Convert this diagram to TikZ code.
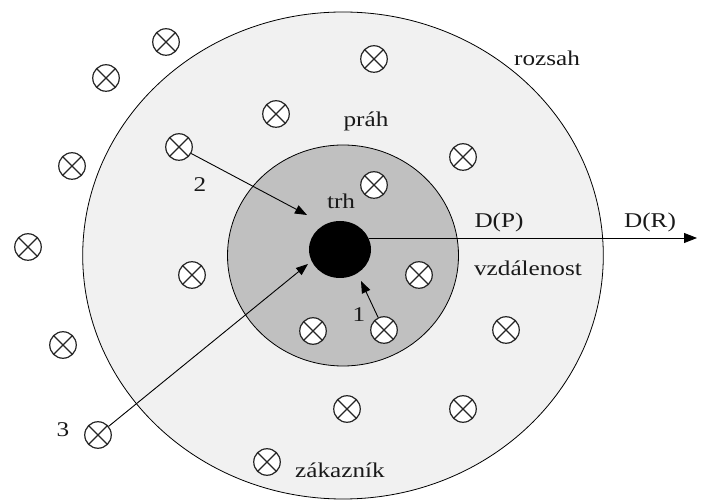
\documentclass[tikz,border=0pt]{standalone}
\usepackage{fontspec}
\setmainfont{Liberation Serif}
\usepackage{graphicx}
\usetikzlibrary{arrows.meta,shapes.geometric}
% slightly widened serif lettering
\newcommand{\wtext}[1]{\scalebox{1.2}[1]{#1}}
\definecolor{rangefill}{RGB}{241,241,241}
\definecolor{thresholdfill}{RGB}{192,192,192}
\begin{document}
\begin{tikzpicture}[x=1pt,y=-1pt,
  customer/.style={circle, draw=black!85, line width=1.2pt, fill=white,
    minimum size=26.5pt, inner sep=0pt,
    path picture={
      \draw[line width=1.2pt, black!85]
        (path picture bounding box.north west) -- (path picture bounding box.south east)
        (path picture bounding box.north east) -- (path picture bounding box.south west);}},
  ring/.style={ellipse, draw, line width=0.8pt, inner sep=0pt},
  lbl/.style={anchor=base, inner sep=0pt, text=black!90, font=\fontsize{21}{25}\selectfont},
  flow/.style={line width=0.9pt, -{Triangle[length=12pt,width=9pt]}}]
\useasboundingbox (0,0) rectangle (702,502);

% range and threshold zones, market in the middle
\node[ring, fill=rangefill, minimum width=520.6pt, minimum height=487pt] (range) at (343,255.5) {};
\node[ring, fill=thresholdfill, minimum width=231pt, minimum height=221pt] (threshold) at (343,255.5) {};
\node[ellipse, fill=black, minimum width=62pt, minimum height=57pt, inner sep=0pt] (market) at (340,249.5) {};

% customers
\node[customer] (c1)  at (166,42)  {};
\node[customer] (c2)  at (106,78)  {};
\node[customer] (c3)  at (374,59)  {};
\node[customer] (c4)  at (276,114) {};
\node[customer] (c5)  at (179,147) {};
\node[customer] (c6)  at (72,166)  {};
\node[customer] (c7)  at (463,157) {};
\node[customer] (c8)  at (374,185) {};
\node[customer] (c9)  at (28,247)  {};
\node[customer] (c10) at (192,275) {};
\node[customer] (c11) at (419,275) {};
\node[customer] (c12) at (313,331) {};
\node[customer] (c13) at (384,330) {};
\node[customer] (c14) at (506,330) {};
\node[customer] (c15) at (63,345)  {};
\node[customer] (c16) at (347,409) {};
\node[customer] (c17) at (463,409) {};
\node[customer] (c18) at (98,435)  {};
\node[customer] (c19) at (267,462) {};

% trips to the market
\coordinate (tip1) at (361,281);
\coordinate (tip2) at (307,215);
\coordinate (tip3) at (308,264);
\draw[flow] (c13) -- (tip1);
\draw[flow] (c5) -- (tip2);
\draw[flow] (c18) -- (tip3);

% distance axis
\coordinate (dstart) at (369,238);
\coordinate (dend) at (697,238);
\draw[flow, line width=0.8pt, -{Triangle[length=13pt,width=10pt]}] (dstart) -- (dend);

% labels
\node[lbl] (lrange)  at (547,66)  {\wtext{rozsah}};
\node[lbl] (lthr)    at (366,127) {\wtext{práh}};
\node[lbl] (lmarket) at (341,209) {\wtext{trh}};
\node[lbl] (ldp)     at (499,228) {\wtext{D(P)}};
\node[lbl] (ldr)     at (650,228) {\wtext{D(R)}};
\node[lbl] (ldist)   at (528,276) {\wtext{vzdálenost}};
\node[lbl] (lcust)   at (340,478) {\wtext{zákazník}};
\node[lbl] (lone)    at (359,322) {\wtext{1}};
\node[lbl] (ltwo)    at (200,192) {\wtext{2}};
\node[lbl] (lthree)  at (63,437)  {\wtext{3}};
\end{tikzpicture}
\end{document}
